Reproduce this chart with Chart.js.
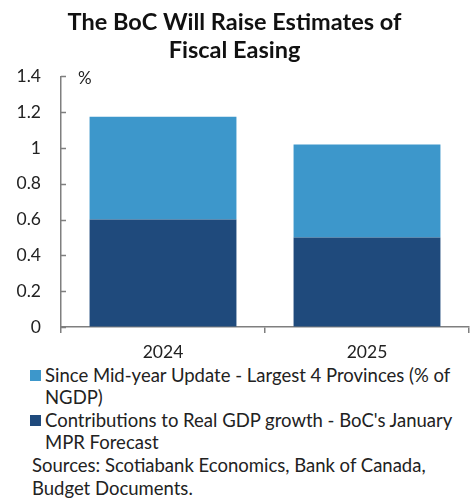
<!DOCTYPE html>
<html>
<head>
<meta charset="utf-8">
<script src="https://cdn.jsdelivr.net/npm/chart.js@4"></script>
<style>
  body { margin: 0; background: #fff; font-family: Lato, sans-serif; }
  #wrap { position: relative; width: 474px; height: 372px; }
  #legend { margin: -8px 0 0 0; padding: 0 0 0 30px; width: 430px; font-size: 18.5px; color: #222; }
  .item { display: flex; align-items: flex-start; line-height: 22px; margin-bottom: 1px; }
  .box { flex: none; width: 11px; height: 11px; margin: 6px 4px 0 0; }
  #sources { padding-left: 32px; width: 420px; font-size: 18.5px; line-height: 23px; color: #222; }
</style>
</head>
<body>
<div id="wrap"><canvas id="chartBar"></canvas></div>
<div id="legend"></div>
<div id="sources">Sources: Scotiabank Economics, Bank of Canada, Budget Documents.</div>
<script>
  // Data
  const categories = ['2024', '2025'];
  const bocForecast = [0.6, 0.5];
  const provinces = [0.575, 0.52];
  const bocLabel = "Contributions to Real GDP growth - BoC's January MPR Forecast";
  const provLabel = 'Since Mid-year Update - Largest 4 Provinces (% of NGDP)';
  const yTicks = [0, 0.2, 0.4, 0.6, 0.8, 1, 1.2, 1.4];

  const axisGrey = '#7f7f7f';

  // ticks pointing inward on the y axis + the "%" note
  const extras = {
    id: 'extras',
    afterDraw(chart) {
      const ctx = chart.ctx;
      const y = chart.scales.y;
      const left = chart.chartArea.left;
      ctx.save();
      ctx.strokeStyle = axisGrey;
      ctx.lineWidth = 1.5;
      yTicks.forEach(v => {
        const py = Math.round(y.getPixelForValue(v)) + 0.5;
        ctx.beginPath();
        ctx.moveTo(left, py);
        ctx.lineTo(left + 5, py);
        ctx.stroke();
      });
      ctx.fillStyle = '#222';
      ctx.font = '17px Lato';
      ctx.textBaseline = 'middle';
      ctx.fillText('%', left + 17, y.getPixelForValue(1.4) + 2);
      ctx.restore();
    }
  };

  const ctxBar = document.getElementById('chartBar').getContext('2d');
  const chartBar = new Chart(ctxBar, {
    type: 'bar',
    data: {
      labels: categories,
      datasets: [
        { label: bocLabel, data: bocForecast, backgroundColor: '#1f4a7c' },
        { label: provLabel, data: provinces, backgroundColor: '#3d97cb' }
      ]
    },
    options: {
      responsive: true,
      maintainAspectRatio: false,
      animation: false,
      layout: { padding: { left: 0, right: 5, top: 0, bottom: 0 } },
      datasets: { bar: { barPercentage: 0.8, categoryPercentage: 0.9 } },
      plugins: {
        legend: { display: false },
        tooltip: { enabled: false },
        title: {
          display: true,
          text: ['The BoC Will Raise Estimates of', 'Fiscal Easing'],
          color: '#111',
          font: { family: 'Lato', size: 23.5, weight: 'bold', lineHeight: 1.2 },
          padding: { top: 8, bottom: 12 }
        }
      },
      scales: {
        x: {
          stacked: true,
          offset: true,
          grid: { offset: true, drawOnChartArea: false, drawTicks: true, tickLength: 6, color: axisGrey, lineWidth: 1.5 },
          border: { color: axisGrey, width: 1.5 },
          ticks: { color: '#222', font: { family: 'Lato', size: 17.5 }, padding: 9 }
        },
        y: {
          stacked: true,
          min: 0,
          max: 1.4,
          afterBuildTicks(scale) { scale.ticks = yTicks.map(v => ({ value: v })); },
          afterFit(scale) { scale.width = 61; },
          grid: { drawOnChartArea: false, drawTicks: false },
          border: { color: axisGrey, width: 1.5 },
          ticks: { color: '#222', font: { family: 'Lato', size: 17.5 }, padding: 20, callback: v => String(v) }
        }
      }
    },
    plugins: [extras]
  });

  // HTML legend (wraps like the original)
  const legend = document.getElementById('legend');
  chartBar.data.datasets.slice().reverse().forEach(ds => {
    const item = document.createElement('div');
    item.className = 'item';
    item.innerHTML = '<span class="box" style="background:' + ds.backgroundColor + '"></span><span>' + ds.label + '</span>';
    legend.appendChild(item);
  });
</script>
</body>
</html>
